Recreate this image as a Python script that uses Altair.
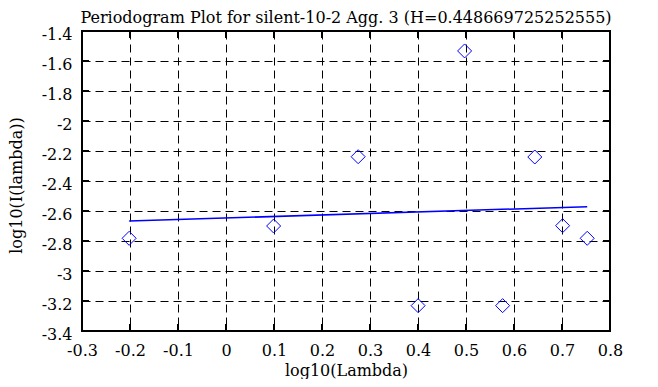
import altair as alt
import pandas as pd

# Data
log_lambda = [-0.2018, 0.0992, 0.2753, 0.4002, 0.4971, 0.5763, 0.6433, 0.7013, 0.7525]
log_I = [-2.782, -2.700, -2.238, -3.231, -1.533, -3.231, -2.240, -2.698, -2.782]

fit_x = [-0.2018, 0.7525]
fit_y = [-2.667, -2.571]

x_ticks = [-0.3, -0.2, -0.1, 0, 0.1, 0.2, 0.3, 0.4, 0.5, 0.6, 0.7, 0.8]
y_ticks = [-3.4, -3.2, -3.0, -2.8, -2.6, -2.4, -2.2, -2.0, -1.8, -1.6, -1.4]

title_text = "Periodogram Plot for silent-10-2 Agg. 3 (H=0.448669725252555)"

FONT = "DejaVu Serif"
FS = 16
W, H = 528, 300
TICK = 7

pts = pd.DataFrame({"x": log_lambda, "y": log_I})
fit = pd.DataFrame({"x": fit_x, "y": fit_y})
xt = pd.DataFrame({"x": x_ticks})
yt = pd.DataFrame({"y": y_ticks})
ttl = pd.DataFrame({"t": [title_text]})

xscale = alt.Scale(domain=[-0.3, 0.8], nice=False, zero=False)
yscale = alt.Scale(domain=[-3.4, -1.4], nice=False, zero=False)

xaxis = alt.Axis(
    values=x_ticks, labelExpr="'' + datum.value", grid=True, gridDash=[8, 5],
    gridColor="black", gridOpacity=1, gridWidth=1, domain=False, ticks=False,
    tickSize=0, labelPadding=11, labelFont=FONT, labelFontSize=FS, labelColor="black",
    labelFlush=False, labelOverlap=False,
    title="log10(Lambda)", titleFont=FONT, titleFontSize=FS, titleFontWeight="normal",
    titleColor="black", titleX=W / 2, titleY=44, titleAlign="center",
    titleBaseline="alphabetic",
)
yaxis = alt.Axis(
    values=y_ticks, labelExpr="'' + datum.value", grid=True, gridDash=[8, 5],
    gridColor="black", gridOpacity=1, gridWidth=1, domain=False, ticks=False,
    tickSize=0, labelPadding=10, labelOffset=3, labelFont=FONT, labelFontSize=FS,
    labelColor="black", labelFlush=False, labelOverlap=False,
    title="log10(I(lambda))", titleFont=FONT, titleFontSize=FS, titleFontWeight="normal",
    titleColor="black", titleAngle=270, titleX=-61, titleY=154,
    titleAlign="center", titleBaseline="alphabetic",
)

X = alt.X("x:Q", scale=xscale, axis=xaxis)
Y = alt.Y("y:Q", scale=yscale, axis=yaxis)

points = alt.Chart(pts).mark_point(
    shape="diamond", filled=False, color="#0000ff", size=196, strokeWidth=1, opacity=1
).encode(x=X, y=Y)

line = alt.Chart(fit).mark_line(color="#0000ff", strokeWidth=1.5).encode(x=X, y=Y)

tick_style = dict(color="black", strokeWidth=2)
xt_bottom = alt.Chart(xt).mark_rule(**tick_style).encode(
    x=X, y=alt.value(H), y2=alt.value(H - TICK)
)
xt_top = alt.Chart(xt).mark_rule(**tick_style).encode(
    x=X, y=alt.value(0), y2=alt.value(TICK)
)
yt_left = alt.Chart(yt).mark_rule(**tick_style).encode(
    y=Y, x=alt.value(0), x2=alt.value(TICK)
)
yt_right = alt.Chart(yt).mark_rule(**tick_style).encode(
    y=Y, x=alt.value(W), x2=alt.value(W - TICK)
)

title = alt.Chart(ttl).mark_text(
    font=FONT, fontSize=FS, color="black", align="center", baseline="alphabetic"
).encode(text="t:N", x=alt.value(W / 2), y=alt.value(-8))

chart = alt.layer(points, xt_bottom, xt_top, yt_left, yt_right, line, title).properties(
    width=W, height=H,
    autosize=alt.AutoSizeParams(type="none"),
    padding={"left": 74, "top": 23, "right": 40, "bottom": 48},
).configure(background="white", font=FONT).configure_view(stroke="black", strokeWidth=2)

chart.save("out.html", embed_options={"renderer": "svg", "actions": False})
